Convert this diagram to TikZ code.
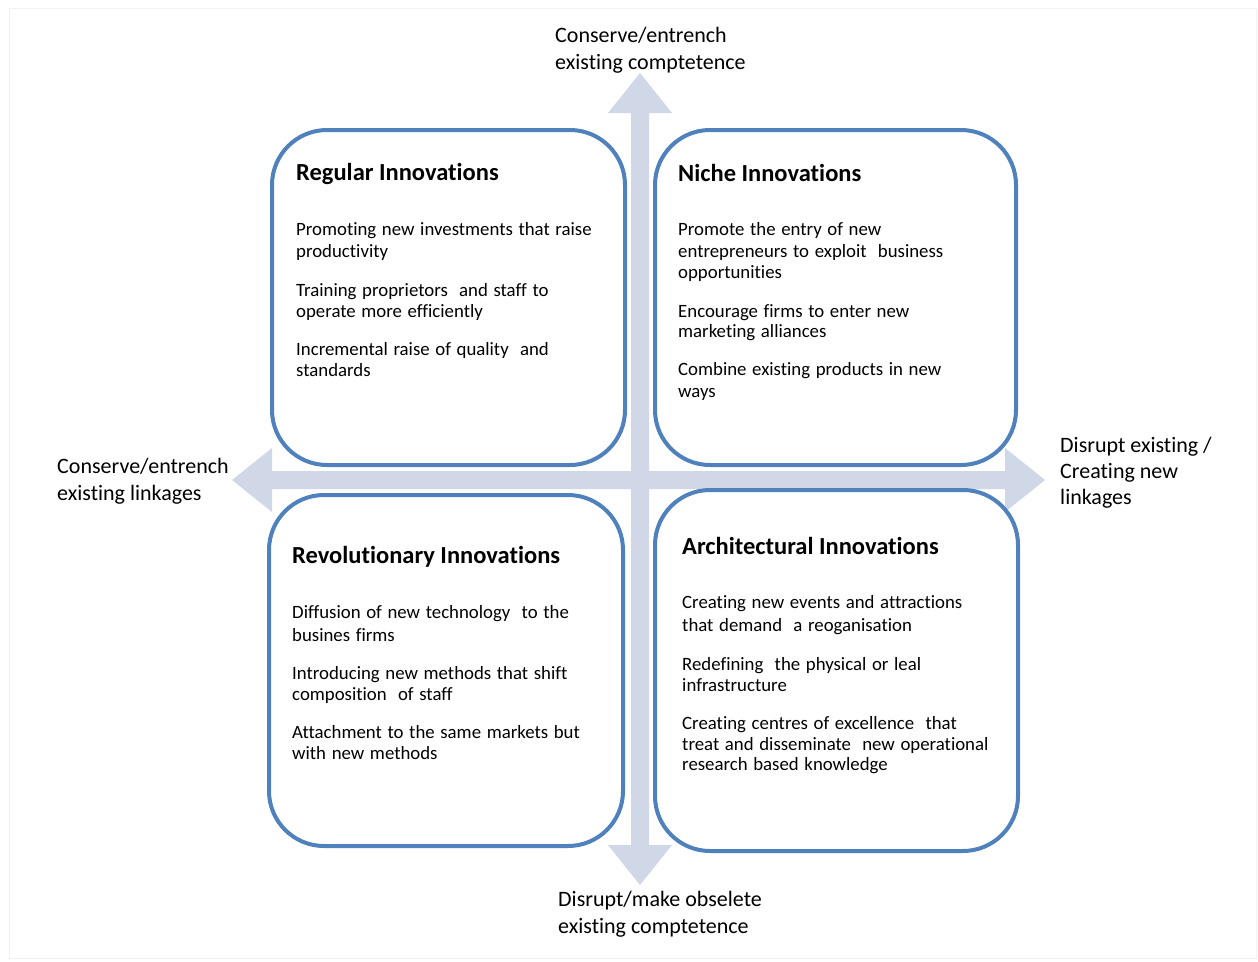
\documentclass[tikz,border=0pt]{standalone}
\usepackage{fontspec}
\setmainfont{Carlito}[Ligatures=NoCommon]
\definecolor{axisblue}{HTML}{D0D8E8}
\definecolor{boxblue}{HTML}{4F81BD}
\newcommand\itemfont{\fontsize{18.8}{22}\selectfont\spaceskip=0.3em plus 0.1em\relax}
\begin{document}
\begin{tikzpicture}[x=1pt,y=-1pt,
  quad/.style={draw=boxblue, line width=4pt, fill=white, rounded corners=55pt, inner sep=0pt},
  ttl/.style={anchor=base west, inner sep=0pt, font=\fontsize{24.5}{28}\selectfont\bfseries},
  itm/.style={anchor=base west, inner sep=0pt, font=\itemfont},
  lbl/.style={anchor=base west, inner sep=0pt, font=\fontsize{22}{27}\selectfont}]
% page frame
\fill[white] (0,0) rectangle (1258,961);
\draw[black!5, line width=1pt] (9,8) rectangle (1256,958);
\useasboundingbox (0,0) rectangle (1258,961);

% the two axes: double-headed block arrows crossing at the centre
\coordinate (ctr) at (640,480);
\coordinate (tipN) at (640,73);
\coordinate (tipS) at (640,885);
\coordinate (tipW) at (232,480);
\coordinate (tipE) at (1045,480);
\fill[axisblue] (tipN) -- (672,113) -- (649,113) -- (649,845) -- (672,845) -- (tipS)
  -- (608,845) -- (631,845) -- (631,113) -- (608,113) -- cycle;
\fill[axisblue] (tipW) -- (272,448) -- (272,471) -- (1005,471) -- (1005,448) -- (tipE)
  -- (1005,512) -- (1005,489) -- (272,489) -- (272,512) -- cycle;

% quadrant boxes
\node[quad, minimum width=353pt, minimum height=335pt] (regular) at (448.5,297.5) {};
\node[quad, minimum width=361pt, minimum height=335pt] (niche) at (835.5,297.5) {};
\node[quad, minimum width=354pt, minimum height=351pt] (revolutionary) at (446,670.5) {};
\node[quad, minimum width=363pt, minimum height=361pt] (architectural) at (836.5,670.5) {};

% axis labels
\node[lbl] (n1) at (555,42) {Conserve/entrench};
\node[lbl] (n2) at (555,69) {existing comptetence};
\node[lbl] (w1) at (57,473) {Conserve/entrench};
\node[lbl] (w2) at (57,500) {existing linkages};
\node[lbl] (e1) at (1060,452) {Disrupt existing /};
\node[lbl] (e2) at (1060,478) {Creating new};
\node[lbl] (e3) at (1060,504) {linkages};
\node[lbl] (s1) at (558,906) {Disrupt/make obselete};
\node[lbl] (s2) at (558,933) {existing comptetence};

% regular innovations
\node[ttl] (rt) at (296,180) {Regular Innovations};
\node[itm] (r1) at (296,235) {Promoting new investments that raise};
\node[itm] (r2) at (296,257) {productivity};
\node[itm] (r3) at (296,296) {Training proprietors \ and staff to};
\node[itm] (r4) at (296,317) {operate more efficiently};
\node[itm] (r5) at (296,355) {Incremental raise of quality \ and};
\node[itm] (r6) at (296,376) {standards};

% niche innovations
\node[ttl] (nt) at (678,181) {Niche Innovations};
\node[itm] (c1) at (678,235) {Promote the entry of new};
\node[itm] (c2) at (678,257) {entrepreneurs to exploit \ business};
\node[itm] (c3) at (678,278) {opportunities};
\node[itm] (c4) at (678,317) {Encourage firms to enter new};
\node[itm] (c5) at (678,337) {marketing alliances};
\node[itm] (c6) at (678,375) {Combine existing products in new};
\node[itm] (c7) at (678,397) {ways};

% revolutionary innovations
\node[ttl] (vt) at (292,563) {Revolutionary Innovations};
\node[itm] (v1) at (292,618) {Diffusion of new technology \ to the};
\node[itm] (v2) at (292,641) {busines firms};
\node[itm] (v3) at (292,679) {Introducing new methods that shift};
\node[itm] (v4) at (292,700) {composition \ of staff};
\node[itm] (v5) at (292,738) {Attachment to the same markets but};
\node[itm] (v6) at (292,759) {with new methods};

% architectural innovations
\node[ttl] (at) at (682,554) {Architectural Innovations};
\node[itm] (a1) at (682,608) {Creating new events and attractions};
\node[itm] (a2) at (682,631) {that demand \ a reoganisation};
\node[itm] (a3) at (682,670) {Redefining \ the physical or leal};
\node[itm] (a4) at (682,691) {infrastructure};
\node[itm] (a5) at (682,729) {Creating centres of excellence \ that};
\node[itm] (a6) at (682,750) {treat and disseminate \ new operational};
\node[itm] (a7) at (682,770) {research based knowledge};
\end{tikzpicture}
\end{document}
